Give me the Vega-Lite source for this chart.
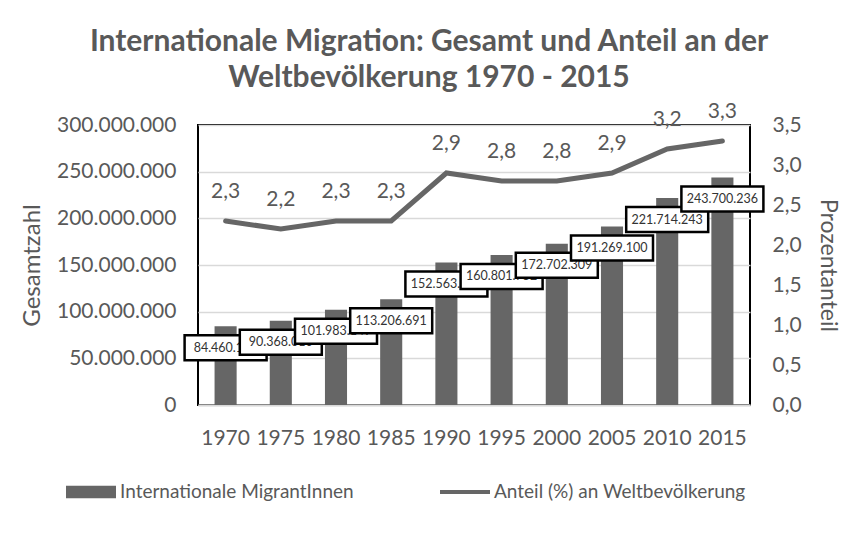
{
  "$schema": "https://vega.github.io/schema/vega-lite/v6.json",
  "width": 552,
  "height": 280,
  "autosize": {"type": "none"},
  "padding": {"left": 198, "top": 125, "right": 107, "bottom": 128},
  "background": "white",
  "title": {
    "text": ["Internationale Migration: Gesamt und Anteil an der", "Weltbevölkerung 1970 - 2015"],
    "font": "Lato",
    "fontSize": 30,
    "fontWeight": "bold",
    "color": "#595959",
    "anchor": "middle",
    "frame": "group",
    "dx": -45,
    "offset": 8,
    "lineHeight": 36
  },
  "data": {
    "values": [
      {"year": "1970", "total": 84460125, "pct": 2.3},
      {"year": "1975", "total": 90368010, "pct": 2.2},
      {"year": "1980", "total": 101983149, "pct": 2.3},
      {"year": "1985", "total": 113206691, "pct": 2.3},
      {"year": "1990", "total": 152563212, "pct": 2.9},
      {"year": "1995", "total": 160801752, "pct": 2.8},
      {"year": "2000", "total": 172702309, "pct": 2.8},
      {"year": "2005", "total": 191269100, "pct": 2.9},
      {"year": "2010", "total": 221714243, "pct": 3.2},
      {"year": "2015", "total": 243700236, "pct": 3.3}
    ]
  },
  "encoding": {
    "x": {"field": "year", "type": "ordinal", "title": null, "scale": {"paddingInner": 0.6, "paddingOuter": 0.3}}
  },
  "layer": [
    {
      "encoding": {
        "y": {"field": "total", "type": "quantitative", "title": "Gesamtzahl", "scale": {"domain": [0, 300000000], "nice": false}}
      },
      "layer": [
        {
          "mark": {"type": "bar", "color": "#666666"},
          "encoding": {
            "x": {"field": "year", "type": "ordinal", "title": null, "scale": {"paddingInner": 0.6, "paddingOuter": 0.3},
              "axis": {"labelAngle": 0, "labelFontSize": 21, "labelColor": "#595959", "ticks": false, "domainColor": "#d9d9d9", "domainWidth": 2, "labelPadding": 22, "grid": false}},
            "y": {"field": "total", "type": "quantitative", "title": "Gesamtzahl", "scale": {"domain": [0, 300000000], "nice": false},
              "axis": {"values": [0, 50000000, 100000000, 150000000, 200000000, 250000000, 300000000], "format": ",d", "labelFontSize": 21, "labelColor": "#595959", "labelOverlap": false, "titleFontSize": 24, "titleColor": "#595959", "titleFontWeight": "normal", "domain": false, "ticks": false, "labelPadding": 22, "grid": true, "gridColor": "#d9d9d9", "gridWidth": 1.5, "titlePadding": 12}},
            "color": {"datum": "Internationale MigrantInnen", "type": "nominal",
              "scale": {"domain": ["Internationale MigrantInnen", "Anteil (%) an Weltbevölkerung"], "range": ["#666666", "#666666"]},
              "legend": {"title": null, "orient": "none", "direction": "horizontal", "legendX": -132, "legendY": 342, "labelFontSize": 19, "labelColor": "#595959", "labelLimit": 400, "symbolSize": 2500, "columnPadding": 86, "labelOffset": 4,
                "encode": {"symbols": {"update": {
                  "shape": {"signal": "datum.label == 'Internationale MigrantInnen' ? 'M-1,-0.25H1V0.25H-1Z' : 'M-1,-0.08H1V0.08H-1Z'"},
                  "fill": {"value": "#666666"}, "stroke": {"value": "transparent"}, "strokeWidth": {"value": 0}, "opacity": {"value": 1}}}}}}
          }
        },
        {"transform": [{"filter": "datum.year == '1970'"}], "layer": [
          {"mark": {"type": "point", "shape": "M-1,-0.305H1V0.305H-1Z", "filled": true, "fill": "white", "stroke": "black", "strokeWidth": 2.5, "opacity": 1, "size": 6724, "yOffset": 21.5}},
          {"mark": {"type": "text", "font": "Lato", "fontSize": 12.5, "color": "#333333", "yOffset": 21.5}, "encoding": {"text": {"field": "total", "type": "quantitative", "format": ",d"}}}]},
        {"transform": [{"filter": "datum.year == '1975'"}], "layer": [
          {"mark": {"type": "point", "shape": "M-1,-0.305H1V0.305H-1Z", "filled": true, "fill": "white", "stroke": "black", "strokeWidth": 2.5, "opacity": 1, "size": 6724, "yOffset": 21.5}},
          {"mark": {"type": "text", "font": "Lato", "fontSize": 12.5, "color": "#333333", "yOffset": 21.5}, "encoding": {"text": {"field": "total", "type": "quantitative", "format": ",d"}}}]},
        {"transform": [{"filter": "datum.year == '1980'"}], "layer": [
          {"mark": {"type": "point", "shape": "M-1,-0.305H1V0.305H-1Z", "filled": true, "fill": "white", "stroke": "black", "strokeWidth": 2.5, "opacity": 1, "size": 6724, "yOffset": 21.5}},
          {"mark": {"type": "text", "font": "Lato", "fontSize": 12.5, "color": "#333333", "yOffset": 21.5}, "encoding": {"text": {"field": "total", "type": "quantitative", "format": ",d"}}}]},
        {"transform": [{"filter": "datum.year == '1985'"}], "layer": [
          {"mark": {"type": "point", "shape": "M-1,-0.305H1V0.305H-1Z", "filled": true, "fill": "white", "stroke": "black", "strokeWidth": 2.5, "opacity": 1, "size": 6724, "yOffset": 21.5}},
          {"mark": {"type": "text", "font": "Lato", "fontSize": 12.5, "color": "#333333", "yOffset": 21.5}, "encoding": {"text": {"field": "total", "type": "quantitative", "format": ",d"}}}]},
        {"transform": [{"filter": "datum.year == '1990'"}], "layer": [
          {"mark": {"type": "point", "shape": "M-1,-0.305H1V0.305H-1Z", "filled": true, "fill": "white", "stroke": "black", "strokeWidth": 2.5, "opacity": 1, "size": 6724, "yOffset": 21.5}},
          {"mark": {"type": "text", "font": "Lato", "fontSize": 12.5, "color": "#333333", "yOffset": 21.5}, "encoding": {"text": {"field": "total", "type": "quantitative", "format": ",d"}}}]},
        {"transform": [{"filter": "datum.year == '1995'"}], "layer": [
          {"mark": {"type": "point", "shape": "M-1,-0.305H1V0.305H-1Z", "filled": true, "fill": "white", "stroke": "black", "strokeWidth": 2.5, "opacity": 1, "size": 6724, "yOffset": 21.5}},
          {"mark": {"type": "text", "font": "Lato", "fontSize": 12.5, "color": "#333333", "yOffset": 21.5}, "encoding": {"text": {"field": "total", "type": "quantitative", "format": ",d"}}}]},
        {"transform": [{"filter": "datum.year == '2000'"}], "layer": [
          {"mark": {"type": "point", "shape": "M-1,-0.305H1V0.305H-1Z", "filled": true, "fill": "white", "stroke": "black", "strokeWidth": 2.5, "opacity": 1, "size": 6724, "yOffset": 21.5}},
          {"mark": {"type": "text", "font": "Lato", "fontSize": 12.5, "color": "#333333", "yOffset": 21.5}, "encoding": {"text": {"field": "total", "type": "quantitative", "format": ",d"}}}]},
        {"transform": [{"filter": "datum.year == '2005'"}], "layer": [
          {"mark": {"type": "point", "shape": "M-1,-0.305H1V0.305H-1Z", "filled": true, "fill": "white", "stroke": "black", "strokeWidth": 2.5, "opacity": 1, "size": 6724, "yOffset": 21.5}},
          {"mark": {"type": "text", "font": "Lato", "fontSize": 12.5, "color": "#333333", "yOffset": 21.5}, "encoding": {"text": {"field": "total", "type": "quantitative", "format": ",d"}}}]},
        {"transform": [{"filter": "datum.year == '2010'"}], "layer": [
          {"mark": {"type": "point", "shape": "M-1,-0.305H1V0.305H-1Z", "filled": true, "fill": "white", "stroke": "black", "strokeWidth": 2.5, "opacity": 1, "size": 6724, "yOffset": 21.5}},
          {"mark": {"type": "text", "font": "Lato", "fontSize": 12.5, "color": "#333333", "yOffset": 21.5}, "encoding": {"text": {"field": "total", "type": "quantitative", "format": ",d"}}}]},
        {"transform": [{"filter": "datum.year == '2015'"}], "layer": [
          {"mark": {"type": "point", "shape": "M-1,-0.305H1V0.305H-1Z", "filled": true, "fill": "white", "stroke": "black", "strokeWidth": 2.5, "opacity": 1, "size": 6724, "yOffset": 21.5}},
          {"mark": {"type": "text", "font": "Lato", "fontSize": 12.5, "color": "#333333", "yOffset": 21.5}, "encoding": {"text": {"field": "total", "type": "quantitative", "format": ",d"}}}]}
      ]
    },
    {
      "encoding": {
        "y": {"field": "pct", "type": "quantitative", "title": "Prozentanteil", "scale": {"domain": [0, 3.5], "nice": false},
          "axis": {"orient": "right", "values": [0, 0.5, 1, 1.5, 2, 2.5, 3, 3.5], "tickCount": 8, "format": ".1f", "labelFontSize": 21, "labelColor": "#595959", "labelOverlap": false, "titleFontSize": 23, "titleColor": "#595959", "titleFontWeight": "normal", "domain": false, "ticks": false, "labelPadding": 22, "grid": false, "titlePadding": 14}}
      },
      "layer": [
        {
          "mark": {"type": "line", "color": "#666666", "strokeWidth": 5, "strokeCap": "round"},
          "encoding": {
            "color": {"datum": "Anteil (%) an Weltbevölkerung", "type": "nominal"}
          }
        },
        {
          "mark": {"type": "text", "font": "Lato", "fontSize": 21, "color": "#595959", "dy": -29},
          "encoding": {"text": {"field": "pct", "type": "quantitative", "format": ".1f"}}
        }
      ]
    }
  ],
  "resolve": {"scale": {"y": "independent"}},
  "config": {
    "font": "Lato",
    "view": {"stroke": "#000000", "strokeWidth": 2},
    "axis": {"labelOverlap": false},
    "locale": {"number": {"decimal": ",", "thousands": ".", "grouping": [3], "currency": ["", " €"]}}
  }
}
